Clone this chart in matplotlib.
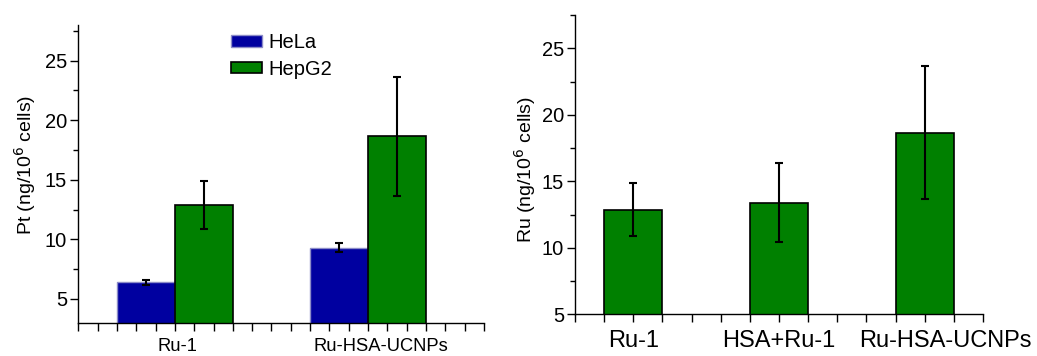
import matplotlib
matplotlib.use("Agg")
import matplotlib.pyplot as plt
from matplotlib.ticker import MultipleLocator
from matplotlib.transforms import ScaledTranslation
import numpy as np

plt.rcParams["font.family"] = ["Liberation Sans", "DejaVu Sans"]

# left panel: Pt uptake
pt_groups = ["Ru-1", "Ru-HSA-UCNPs"]
pt_hela = [6.4, 9.3]
pt_hela_err = [0.22, 0.4]
pt_hepg2 = [12.9, 18.65]
pt_hepg2_err = [2.0, 5.0]

# right panel: Ru uptake
ru_groups = ["Ru-1", "HSA+Ru-1", "Ru-HSA-UCNPs"]
ru_vals = [12.85, 13.4, 18.65]
ru_err = [2.0, 3.0, 5.0]

BLUE = "#0000A0"
GREEN = "#008000"

fig = plt.figure(figsize=(10.37, 3.56), dpi=100)
ax1 = fig.add_axes([0.0755, 0.0935, 0.3912, 0.8363])
ax2 = fig.add_axes([0.5545, 0.1171, 0.3935, 0.8408])


def style_axis(ax):
	for side in ("top", "right"):
		ax.spines[side].set_visible(False)
	for side in ("left", "bottom"):
		ax.spines[side].set_linewidth(1.0)
	ax.tick_params(axis="y", which="major", direction="out", length=6, width=1, labelsize=14.5, pad=2)
	ax.tick_params(axis="y", which="minor", direction="out", length=3.5, width=1)
	ax.tick_params(axis="x", which="both", direction="out", length=6, width=1)


def nudge(label, dx_px):
	# shift a tick label sideways by a few pixels
	label.set_transform(label.get_transform() + ScaledTranslation(dx_px / 100, 0, fig.dpi_scale_trans))


# ---- left ----
x1 = np.arange(1, len(pt_groups) + 1)
w1 = 0.3
err_kw = dict(ecolor="black", elinewidth=1.5, capsize=2.6, capthick=1.5)
ax1.bar(x1 - w1 / 2, pt_hela, w1, yerr=pt_hela_err, color=BLUE,
	edgecolor="#8C8CC8", linewidth=1.0, error_kw=err_kw, label="HeLa", zorder=2)
ax1.bar(x1 + w1 / 2, pt_hepg2, w1, yerr=pt_hepg2_err, color=GREEN,
	edgecolor="black", linewidth=1.2, error_kw=err_kw, label="HepG2", zorder=2)
ax1.set_xlim(0.5, 2.6)
ax1.set_ylim(3, 28)
ax1.set_xticks(x1)
ax1.set_xticklabels(pt_groups, fontsize=13.2)
ax1.xaxis.set_minor_locator(MultipleLocator(0.1))
ax1.set_yticks([5, 10, 15, 20, 25])
ax1.yaxis.set_minor_locator(MultipleLocator(2.5))
ax1.set_ylabel("Pt (ng/10$^6$ cells)", fontsize=14)
ax1.yaxis.set_label_coords(-0.100, 0.53)
style_axis(ax1)
ax1.tick_params(axis="x", pad=5)
for lab, dx in zip(ax1.get_xticklabels(), (3, 13)):
	nudge(lab, dx)
ax1.legend(loc="upper left", bbox_to_anchor=(0.213, 0.935), bbox_transform=fig.transFigure,
	frameon=False, fontsize=14.5, handlelength=1.55, handleheight=0.5,
	handletextpad=0.3, labelspacing=0.38, borderpad=0)

# ---- right ----
x2 = np.arange(1, len(ru_groups) + 1)
ax2.bar(x2, ru_vals, 0.4, yerr=ru_err, color=GREEN, edgecolor="black",
	linewidth=1.2, error_kw=err_kw, zorder=2)
ax2.set_xlim(0.6, 3.4)
ax2.set_ylim(5, 27.5)
ax2.set_xticks(x2)
ax2.set_xticklabels(ru_groups, fontsize=17)
ax2.xaxis.set_minor_locator(MultipleLocator(0.2))
ax2.set_yticks([5, 10, 15, 20, 25])
ax2.yaxis.set_minor_locator(MultipleLocator(2.5))
ax2.set_ylabel("Ru (ng/10$^6$ cells)", fontsize=14)
ax2.yaxis.set_label_coords(-0.090, 0.482)
style_axis(ax2)
ax2.tick_params(axis="x", pad=5)
nudge(ax2.get_xticklabels()[2], 21)

fig.savefig("out.png", dpi=100)
